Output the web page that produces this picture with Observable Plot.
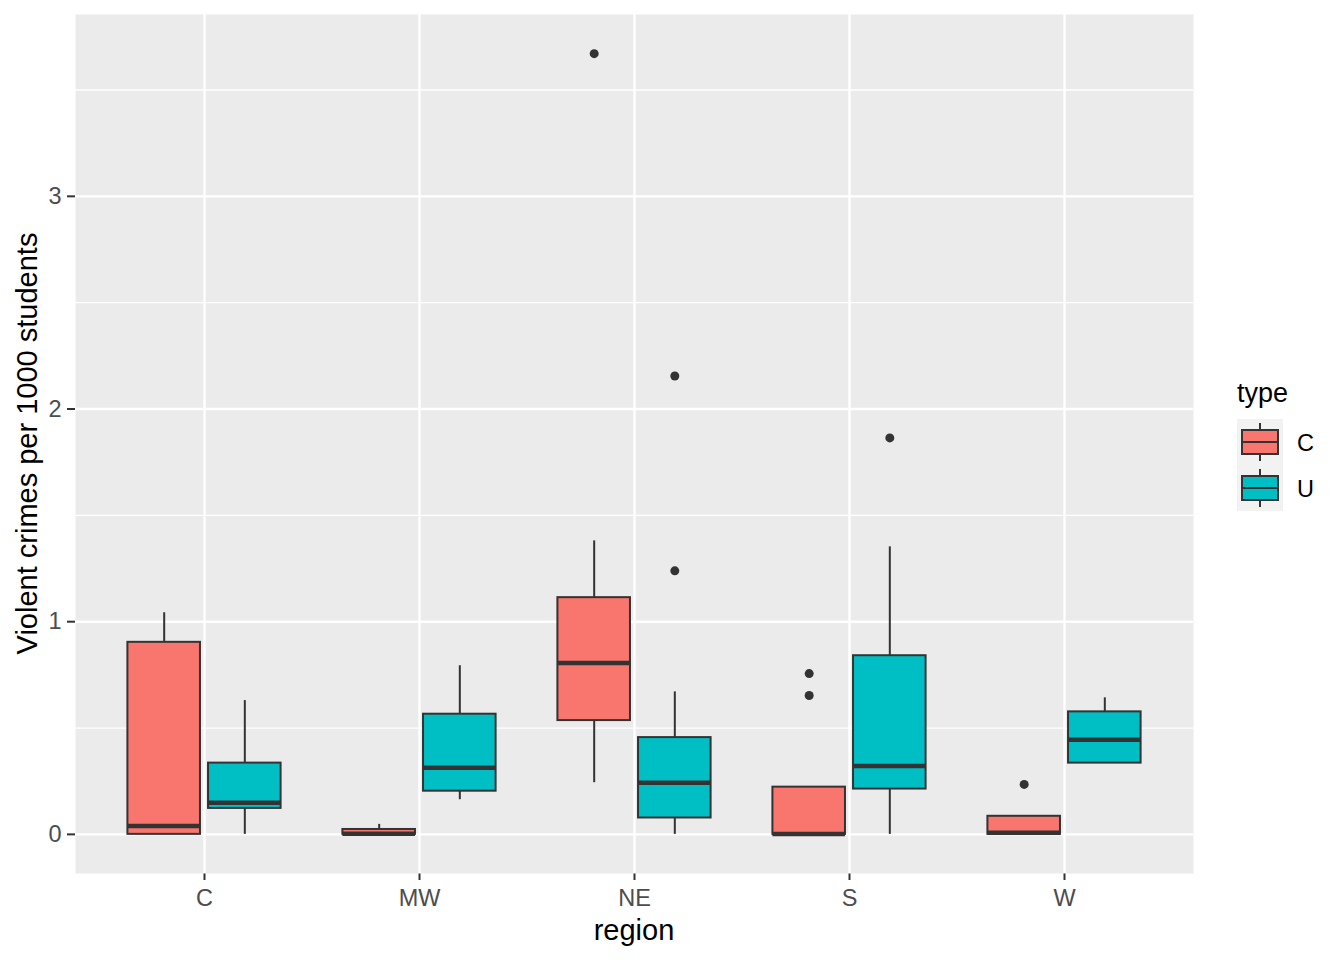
<!DOCTYPE html>
<html><head><meta charset="utf-8">
<script src="https://cdn.jsdelivr.net/npm/d3@7"></script>
<script src="https://cdn.jsdelivr.net/npm/@observablehq/plot@0.6"></script>
<style>
body{margin:0;background:#fff}
#wrap{position:relative;width:1344px;height:960px;font-family:"Liberation Sans",Arial,sans-serif}
</style>
</head><body><div id="wrap"></div>
<script>
// ---- data ----
const regions = ["C", "MW", "NE", "S", "W"];
const types = ["C", "U"];
const typeColors = ["#F8766D", "#00BFC4"];
const boxRegion = ["C", "C", "MW", "MW", "NE", "NE", "S", "S", "W", "W"];
const boxType   = ["C", "U", "C", "U", "C", "U", "C", "U", "C", "U"];
const whiskerLow  = [0,     0,     0,     0.163, 0.243, 0,     0,     0,     0,     0.335];
const q1          = [0,     0.122, 0,     0.203, 0.535, 0.077, 0,     0.213, 0,     0.335];
const median      = [0.039, 0.149, 0.003, 0.313, 0.806, 0.243, 0.002, 0.322, 0.008, 0.445];
const q3          = [0.903, 0.335, 0.023, 0.565, 1.113, 0.455, 0.222, 0.840, 0.085, 0.576];
const whiskerHigh = [1.042, 0.629, 0.047, 0.793, 1.380, 0.670, 0.222, 1.352, 0.085, 0.642];
const outlierRegion = ["NE", "NE", "NE", "S", "S", "S", "W"];
const outlierType   = ["C", "U", "U", "C", "C", "U", "C"];
const outlierValue  = [3.671, 2.155, 1.239, 0.756, 0.653, 1.864, 0.235];
const yTicks = [0, 1, 2, 3];
const yMinor = [0.5, 1.5, 2.5, 3.5];
const xTitle = "region";
const yTitle = "Violent crimes per 1000 students";
const legendTitle = "type";

// ---- build tables (dodge like ggplot) ----
const dodge = 0.1875, half = 0.16875;
const pos = (r, t) => regions.indexOf(r) + 1 + (t === types[0] ? -dodge : dodge);
const boxes = boxRegion.map((r, i) => ({
  region: r, type: boxType[i], pos: pos(r, boxType[i]),
  lo: whiskerLow[i], q1: q1[i], med: median[i], q3: q3[i], hi: whiskerHigh[i]
}));
const outliers = outlierRegion.map((r, i) => ({region: r, type: outlierType[i], pos: pos(r, outlierType[i]), value: outlierValue[i]}));

const W = 1344, H = 960;
const mL = 75, mR = 151, mT = 14, mB = 87;
const ink = "#333333";

const svg = Plot.plot({
  width: W, height: H,
  marginLeft: mL, marginRight: mR, marginTop: mT, marginBottom: mB,
  style: {fontSize: "23.5px", fontFamily: "'Liberation Sans', Arial, sans-serif", color: "#4D4D4D", background: "transparent"},
  x: {domain: [0.4, 5.6], ticks: regions.map((_, i) => i + 1), tickFormat: d => regions[d - 1], tickSize: 7, tickPadding: 9, label: null},
  y: {domain: [-0.184, 3.855], ticks: yTicks, tickFormat: d => String(d), tickSize: 8, tickPadding: 6, label: null},
  color: {domain: types, range: typeColors},
  marks: [
    Plot.frame({fill: "#EBEBEB", stroke: null}),
    Plot.ruleY(yMinor, {stroke: "white", strokeWidth: 1.3}),
    Plot.ruleY(yTicks, {stroke: "white", strokeWidth: 2.4}),
    Plot.ruleX(regions.map((_, i) => i + 1), {stroke: "white", strokeWidth: 2.4}),
    Plot.ruleX(boxes, {x: "pos", y1: "q3", y2: "hi", stroke: ink, strokeWidth: 2}),
    Plot.ruleX(boxes, {x: "pos", y1: "lo", y2: "q1", stroke: ink, strokeWidth: 2}),
    Plot.rect(boxes, {x1: d => d.pos - half, x2: d => d.pos + half, y1: "q1", y2: "q3", fill: "type", stroke: ink, strokeWidth: 2}),
    Plot.ruleY(boxes, {y: "med", x1: d => d.pos - half, x2: d => d.pos + half, stroke: ink, strokeWidth: 4.5}),
    Plot.dot(outliers, {x: "pos", y: "value", r: 4.5, fill: ink, stroke: null})
  ]
});
document.getElementById("wrap").appendChild(svg);

const s = d3.select(svg);
s.selectAll("g[aria-label$='tick'] path, g[aria-label$='tick'] line").attr("stroke", ink).attr("stroke-width", 2);
// axis titles
s.append("text").attr("x", (mL + W - mR) / 2).attr("y", 940).attr("text-anchor", "middle")
  .attr("fill", "black").style("font-size", "29px").text(xTitle);
s.append("text").attr("transform", `translate(37,${(mT + H - mB) / 2}) rotate(-90)`).attr("text-anchor", "middle")
  .attr("fill", "black").style("font-size", "29px").text(yTitle);

// legend
const lg = s.append("g").attr("transform", "translate(1237,0)").attr("text-anchor", "start");
lg.append("text").attr("x", 0).attr("y", 402).attr("fill", "black").style("font-size", "27px").text(legendTitle);
lg.append("rect").attr("x", 0).attr("y", 419).attr("width", 46).attr("height", 92).attr("fill", "#F2F2F2");
types.forEach((t, i) => {
  const cy = 442 + i * 46;
  const g = lg.append("g");
  g.append("line").attr("x1", 23).attr("x2", 23).attr("y1", cy - 19).attr("y2", cy + 19).attr("stroke", ink).attr("stroke-width", 2);
  g.append("rect").attr("x", 5).attr("y", cy - 12).attr("width", 36).attr("height", 24).attr("fill", typeColors[i]).attr("stroke", ink).attr("stroke-width", 2);
  g.append("line").attr("x1", 5).attr("x2", 41).attr("y1", cy).attr("y2", cy).attr("stroke", ink).attr("stroke-width", 2);
  g.append("text").attr("x", 60).attr("y", cy + 8.5).attr("fill", "black").style("font-size", "23.5px").text(t);
});
</script>
</body></html>
